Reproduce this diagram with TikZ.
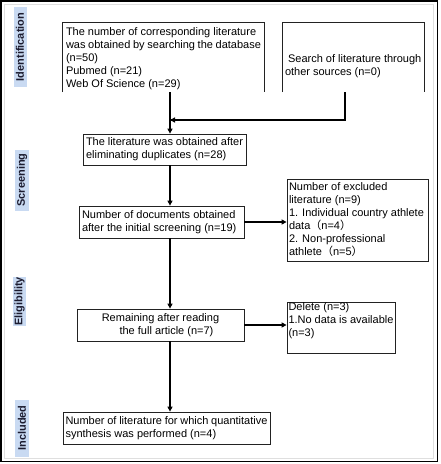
\documentclass[tikz,border=0pt]{standalone}
\usepackage{fontspec}
\setmainfont{Liberation Sans}
\newfontfamily\cjk{Noto Sans CJK SC}
\usetikzlibrary{arrows.meta}
\definecolor{lblfill}{HTML}{C9DAF2}
\definecolor{lbltext}{HTML}{1C1C30}
\definecolor{edge}{HTML}{222222}
\tikzset{
  box/.style={draw=edge, line width=0.8pt, inner sep=0pt, font=\fontsize{11}{13}\selectfont, text=black},
  openbox/.style={inner sep=0pt, font=\fontsize{11}{13}\selectfont, text=black},
  phase/.style={fill=lblfill, inner sep=0pt, rotate=90, font=\fontsize{11}{13}\selectfont\bfseries, text=lbltext},
  arr/.style={draw=black, line width=1.3pt, -{Triangle[length=5pt,width=5pt]}},
  ln/.style={draw=black, line width=1.3pt},
}
\begin{document}
\begin{tikzpicture}[x=1pt,y=-1pt]
\useasboundingbox (0,0) rectangle (440,464);
\fill[white] (0,0) rectangle (440,464);
\draw[black, line width=1.5pt] (0.75,0.75) rectangle (437.5,461.5);
\draw[gray!25, line width=0.8pt] (4,4) rectangle (433,458);

% phase labels
\node[phase, minimum width=80pt, minimum height=13pt] (pid) at (20,47) {Identification};
\node[phase, minimum width=61pt, minimum height=14pt] (psc) at (22,180) {Screening};
\node[phase, minimum width=47pt, minimum height=13pt] (pel) at (19.5,301.5) {Eligibility};
\node[phase, minimum width=57pt, minimum height=14pt] (pin) at (22,428) {Included};

% boxes
\node[openbox, minimum width=201pt, minimum height=69pt] (db) at (163.5,57.5)
  {\parbox[c][69pt][t]{195pt}{\vspace*{5pt}The number of corresponding literature\\was obtained by searching the database\\(n=50)\\Pubmed (n=21)\\Web Of Science (n=29)}};
\draw[edge, line width=0.8pt] (db.south west) -- (db.north west) -- (db.north east) -- (db.south east);

\node[openbox, minimum width=141pt, minimum height=69pt] (oth) at (353.5,57.5)
  {\parbox[c][69pt][t]{137pt}{\vspace*{32pt}\ Search of literature through\\other sources (n=0)}};
\draw[edge, line width=0.8pt] (oth.south west) -- (oth.north west) -- (oth.north east) -- (oth.south east);

\node[box, minimum width=163pt, minimum height=31pt, align=left] (dup) at (164.5,149.5)
  {\parbox{157pt}{The literature was obtained after\\\ eliminating duplicates (n=28)}};

\node[box, minimum width=165pt, minimum height=32pt] (scr) at (161.5,222)
  {\parbox{159pt}{Number of documents obtained\\after the initial screening (n=19)}};

\node[box, minimum width=141pt, minimum height=82pt] (exc) at (357.5,220)
  {\parbox{137pt}{Number of excluded\\literature (n=9)\\1. Individual country athlete\\data{\cjk （}n=4{\cjk ）}\\2. Non-professional\\athlete{\cjk （}n=5{\cjk ）}}};

\node[box, minimum width=167pt, minimum height=32pt] (full) at (160.5,325)
  {\parbox{161pt}{\centering Remaining after reading\\\hspace*{12pt}the full article (n=7)}};

\node[box, minimum width=108pt, minimum height=51pt] (del) at (341,327.5)
  {\parbox[c][51pt][t]{105pt}{\vspace*{1pt}Delete (n=3)\\1.No data is available\\(n=3)}};

\node[box, minimum width=207pt, minimum height=32pt] (inc) at (166.5,428)
  {\parbox{202pt}{Number of literature for which quantitative\\synthesis was performed (n=4)}};

% trunk coordinates
\coordinate (tx) at (170,0);
\coordinate (ox) at (345,0);
\coordinate (join) at (170,120);

\draw[arr] (db.south -| tx) -- (dup.north -| tx);
\draw[ln] (oth.south -| ox) |- ([xshift=1pt]join);
\draw[arr] (oth.south -| ox) |- (join);
\draw[arr] (dup.south -| tx) -- (scr.north -| tx);
\draw[arr] (scr.east) -- (scr.east -| exc.west);
\draw[arr] (scr.south -| tx) -- (full.north -| tx);
\draw[arr] (full.east) -- (full.east -| del.west);
\draw[arr] (full.south -| tx) -- (inc.north -| tx);
\end{tikzpicture}
\end{document}
